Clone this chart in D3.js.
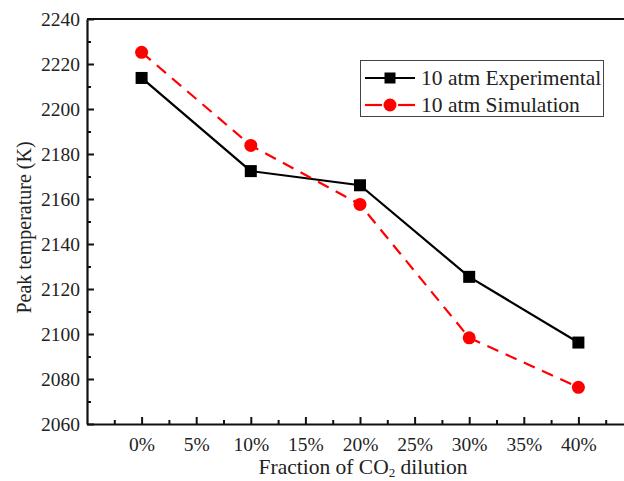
<!DOCTYPE html>
<html>
<head>
<meta charset="utf-8">
<script src="https://cdn.jsdelivr.net/npm/d3@7"></script>
<style>
  body { margin: 0; background: #fff; }
  svg text { font-family: "Liberation Serif", "Times New Roman", serif; fill: #222; }
</style>
</head>
<body>
<div id="chart"></div>
<script>
// Data
const dilution = [0, 10, 20, 30, 40];
const experimental = [2213.8, 2172.4, 2166.1, 2125.4, 2096.2];
const simulation = [2225.2, 2183.8, 2157.6, 2098.3, 2076.3];
const xTicks = [0, 5, 10, 15, 20, 25, 30, 35, 40];
const yTicks = [2060, 2080, 2100, 2120, 2140, 2160, 2180, 2200, 2220, 2240];

const width = 624, height = 481;
const margin = {top: 19, right: -9, bottom: 57, left: 87};

const svg = d3.select("#chart").append("svg")
    .attr("width", width)
    .attr("height", height);

const x = d3.scaleLinear()
    .domain([-5, 45])
    .range([margin.left, width - margin.right]);

const y = d3.scaleLinear()
    .domain([2060, 2240])
    .range([height - margin.bottom, margin.top]);

// Axes, ticks pointing inward
svg.append("g")
    .attr("transform", `translate(0,${y(2060)})`)
    .call(d3.axisBottom(x).tickValues(xTicks).tickSizeInner(-7).tickSizeOuter(0).tickPadding(13)
        .tickFormat(d => d + "%"));

svg.append("g")
    .attr("transform", `translate(0,${y(2060)})`)
    .call(d3.axisBottom(x).tickValues(d3.range(-2.5, 45, 5)).tickSizeInner(-4).tickSizeOuter(0).tickFormat(""))
    .call(g => g.select(".domain").remove());

svg.append("g")
    .attr("transform", `translate(${x(-5)},0)`)
    .call(d3.axisLeft(y).tickValues(yTicks).tickSizeInner(-7).tickSizeOuter(0).tickPadding(7)
        .tickFormat(d3.format("d")));

svg.append("g")
    .attr("transform", `translate(${x(-5)},0)`)
    .call(d3.axisLeft(y).tickValues(d3.range(2070, 2240, 20)).tickSizeInner(-4).tickSizeOuter(0).tickFormat(""))
    .call(g => g.select(".domain").remove());

svg.selectAll(".domain").attr("stroke", "#111").attr("stroke-width", 2.2);
svg.selectAll(".tick line").attr("stroke", "#111").attr("stroke-width", 2);
svg.selectAll(".tick text").attr("font-size", 19.5).attr("fill", "#222")
    .style("font-family", "'Liberation Serif', serif");

// Top frame line
svg.append("line")
    .attr("x1", x(-5)).attr("x2", width)
    .attr("y1", y(2240)).attr("y2", y(2240))
    .attr("stroke", "#111").attr("stroke-width", 2.2);

// Axis titles
svg.append("text")
    .attr("x", 363).attr("y", 474)
    .attr("text-anchor", "middle")
    .attr("font-size", 21.5)
    .html('Fraction of CO<tspan font-size="13" dy="3">2</tspan><tspan dy="-3"> dilution</tspan>');

svg.append("text")
    .attr("transform", `translate(31,${(y(2060) + y(2240)) / 2 + 6}) rotate(-90)`)
    .attr("text-anchor", "middle")
    .attr("font-size", 20)
    .text("Peak temperature (K)");

// Series
const line = d3.line().x(d => x(d[0])).y(d => y(d[1]));
const expData = dilution.map((d, i) => [d, experimental[i]]);
const simData = dilution.map((d, i) => [d, simulation[i]]);

svg.append("path")
    .datum(expData)
    .attr("d", line)
    .attr("fill", "none")
    .attr("stroke", "#000")
    .attr("stroke-width", 2.2);

svg.append("path")
    .datum(simData)
    .attr("d", line)
    .attr("fill", "none")
    .attr("stroke", "#ff0000")
    .attr("stroke-width", 2.2)
    .attr("stroke-dasharray", "12,8");

svg.selectAll(".sq")
    .data(expData)
    .enter().append("rect")
    .attr("x", d => x(d[0]) - 6)
    .attr("y", d => y(d[1]) - 6)
    .attr("width", 12).attr("height", 12)
    .attr("fill", "#000");

svg.selectAll(".ci")
    .data(simData)
    .enter().append("circle")
    .attr("cx", d => x(d[0]))
    .attr("cy", d => y(d[1]))
    .attr("r", 6.5)
    .attr("fill", "#ff0000");

// Legend
const legend = svg.append("g");
legend.append("rect")
    .attr("x", 360.5).attr("y", 60.5)
    .attr("width", 243).attr("height", 56)
    .attr("fill", "#fff").attr("stroke", "#444").attr("stroke-width", 1);

const items = [
  {label: "10 atm Experimental", color: "#000", dashed: false, shape: "square", cy: 78},
  {label: "10 atm Simulation", color: "#ff0000", dashed: true, shape: "circle", cy: 105}
];
items.forEach(it => {
  if (it.dashed) {
    [[365, 382], [398, 415]].forEach(s => {
      legend.append("line")
          .attr("x1", s[0]).attr("x2", s[1])
          .attr("y1", it.cy).attr("y2", it.cy)
          .attr("stroke", it.color).attr("stroke-width", 2.2);
    });
  } else {
    legend.append("line")
        .attr("x1", 365).attr("x2", 415)
        .attr("y1", it.cy).attr("y2", it.cy)
        .attr("stroke", it.color).attr("stroke-width", 2.2);
  }
  if (it.shape === "square") {
    legend.append("rect").attr("x", 384.5).attr("y", it.cy - 5.5).attr("width", 11).attr("height", 11).attr("fill", it.color);
  } else {
    legend.append("circle").attr("cx", 390).attr("cy", it.cy).attr("r", 6.5).attr("fill", it.color);
  }
  legend.append("text")
      .attr("x", 421).attr("y", it.cy + 7)
      .attr("font-size", 21.5)
      .text(it.label);
});
</script>
</body>
</html>
